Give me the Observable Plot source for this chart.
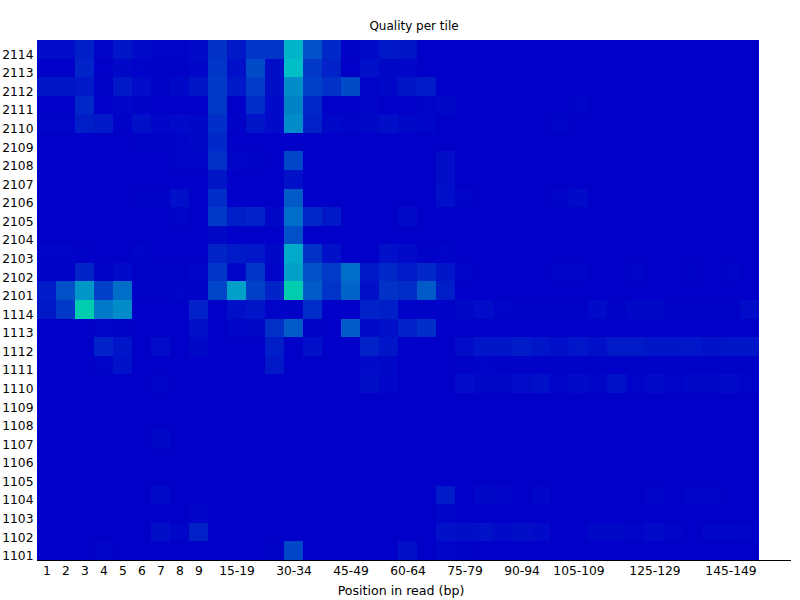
<!DOCTYPE html>
<html>
<head>
<meta charset="utf-8">
<script src="https://cdn.jsdelivr.net/npm/d3@7"></script>
<script src="https://cdn.jsdelivr.net/npm/@observablehq/plot@0.6"></script>
<style>html,body{margin:0;padding:0;background:#fff}svg{display:block}</style>
</head>
<body>
<script>
const positions = ["1","2","3","4","5","6","7","8","9","10-14","15-19","20-24","25-29","30-34","35-39","40-44","45-49","50-54","55-59","60-64","65-69","70-74","75-79","80-84","85-89","90-94","95-99","100-104","105-109","110-114","115-119","120-124","125-129","130-134","135-139","140-144","145-149","150-151"];
const shownTicks = ["1","2","3","4","5","6","7","8","9","15-19","30-34","45-49","60-64","75-79","90-94","105-109","125-129","145-149"];
const tiles = ["2114","2113","2112","2111","2110","2109","2108","2107","2106","2105","2104","2103","2102","2101","1114","1113","1112","1111","1110","1109","1108","1107","1106","1105","1104","1103","1102","1101"];

const t2114 = [.6,.6,1.5,.2,1,.5,.2,.2,.5,2.5,1.2,2.7,2.6,9,4,2,.1,.5,1.2,1, 0,0,0,0,0,0,0,0,0,0,0,0,0,0,0,0,0,0];
const t2113 = [0,0,1.8,0,.4,.2,.1,.1,.3,2.7,.8,3.8,.7,9.5,2.8,1.7,0,.8,.4,.3, 0,0,0,0,0,0,0,0,0,0,0,0,0,0,0,0,0,0];
const t2112 = [1,1,1.2,.1,1.2,.6,.1,.4,1,2.8,1.2,3,.7,7,3.2,2.5,3.8,.2,.4,1, 1.4,0,0,0,0,0,0,0,0,0,0,0,0,0,0,0,0,0];
const t2111 = [0,0,2,0,.3,.1,0,0,0,2.8,0,2.2,.5,6.5,2,0,0,.2,0,0, .2,.4,0,0,0,0,0,0,.15,0,0,0,0,0,0,0,0,0];
const t2110 = [.2,.2,1.5,1.2,.1,.8,.3,.5,.4,2.3,.1,1,.5,7,1.7,.4,.2,.4,.7,.4, .3,0,0,0,0,0,0,.15,0,0,0,0,0,0,0,0,0,0];
const t2109 = [0,0,0,0,0,.1,.1,.2,.4,2,0,0,0,0,0,0,0,0,0,0, 0,0,0,0,0,0,0,0,0,0,0,0,0,0,0,0,0,0];
const t2108 = [0,0,0,0,0,0,0,.2,.2,2.4,.3,.1,0,3.5,0,0,0,0,0,0, 0,.7,0,0,0,0,0,0,0,0,0,0,0,0,0,0,0,0];
const t2107 = [0,0,0,0,0,0,0,0,0,1,0,0,0,.8,0,0,0,0,0,0, 0,.7,0,0,0,0,0,0,0,0,0,0,0,0,0,0,0,0];
const t2106 = [0,0,0,0,0,.1,.1,.8,0,2.2,0,0,0,4.5,0,0,0,0,0,0, 0,.8,.15,0,0,0,0,.2,.5,0,0,0,0,0,0,0,0,0];
const t2105 = [0,0,0,0,0,0,0,.2,0,2.8,1.5,1.7,.4,5.5,2,1.2,0,0,0,.5, 0,0,0,0,0,0,0,0,0,0,0,0,0,0,0,0,0,0];
const t2104 = [0,0,0,0,0,0,0,0,0,.4,0,0,0,4,0,0,0,0,0,0, 0,0,0,0,0,0,0,0,0,0,0,0,0,0,0,0,0,0];
const t2103 = [.2,.2,.1,0,0,.2,0,0,0,1.8,1.3,1.1,.4,8.5,2.5,.8,0,0,.8,.5, .1,.2,0,0,0,0,0,0,0,0,0,0,0,0,0,0,0,0];
const t2102 = [.1,.1,1.8,.1,.5,.1,.1,.1,.3,2.7,.3,2.7,.2,8,4,3,5.5,1.2,2,1.3, 2,1,.2,0,0,0,0,.2,.2,0,0,.2,0,0,.1,0,.2,0];
const t2101 = [1.4,4,7.5,3.2,5.5,.1,.1,.2,.1,3.5,8,3.2,1.8,10,4.5,2.6,5,.8,2.5,2.2, 4.5,1.5,0,0,0,0,0,0,0,0,0,0,0,0,0,0,0,0];
const t1114 = [1.2,2.8,10,6,7,0,0,0,1.7,0,.8,1,.2,.1,2.2,0,0,1.7,1.5,.1, .1,.1,.4,.6,.2,.1,.1,.1,.1,.5,.1,.4,.4,.1,.1,.1,.1,.6];
const t1113 = [0,0,0,.2,.1,0,0,0,.8,0,.3,.4,2.4,4.5,.1,0,4.5,.5,.8,1.6, 2.3,0,0,0,0,0,0,0,0,0,0,0,0,0,0,0,0,0];
const t1112 = [0,0,0,1.7,1,0,.6,0,.4,0,0,0,1.5,0,.8,0,0,1.7,1,0, 0,0,.6,1,1,1.4,1,.8,1.1,.8,1.3,1.3,1,1,1.1,.9,1,1];
const t1111 = [0,0,0,.2,.9,0,0,0,0,0,0,0,1.2,0,0,0,0,.5,.4,0, 0,0,.1,.2,.1,.1,.1,.1,.1,.1,.1,.1,.1,.1,.1,.1,.1,.1];
const t1110 = [0,0,0,0,0,0,.2,0,0,0,0,0,0,0,0,0,0,.7,.3,0, 0,0,.6,.4,.4,.6,.8,.2,.5,.3,.9,.2,.5,.2,.4,.4,.5,.2];
const t1109 = [0,0,0,0,0,0,0,0,0,0,0,0,0,0,0,0,0,0,0,0, 0,0,0,0,0,0,0,0,0,0,0,0,0,0,0,0,0,0];
const t1108 = [0,0,0,0,0,0,0,0,0,0,0,0,0,0,0,0,0,0,0,0, 0,0,0,0,0,0,0,0,0,0,0,0,0,0,0,0,0,0];
const t1107 = [0,0,0,0,0,0,.4,0,0,0,0,0,0,0,0,0,0,0,0,0, 0,0,0,0,0,0,0,0,0,0,0,0,0,0,0,0,0,0];
const t1106 = [0,0,0,0,0,0,0,0,0,0,0,0,0,0,0,0,0,0,0,0, 0,0,0,0,0,0,0,0,0,0,0,0,0,0,0,0,0,0];
const t1105 = [0,0,0,0,0,0,0,0,0,0,0,0,0,0,0,0,0,0,0,0, 0,0,0,0,0,0,0,0,0,0,0,0,0,0,0,0,0,0];
const t1104 = [0,0,0,0,0,0,.5,0,0,0,0,0,0,0,0,0,0,0,0,0, 0,1.4,0,.4,.3,0,.3,0,0,0,0,0,.2,0,.2,.2,0,0];
const t1103 = [0,0,0,0,0,0,0,0,.2,0,0,0,0,0,0,0,0,0,0,0, 0,.3,0,0,0,0,0,0,0,0,0,0,0,0,0,0,0,0];
const t1102 = [0,0,0,0,0,0,.7,.3,1.6,0,0,0,0,0,0,0,0,0,0,0, 0,.8,.7,.9,.5,.7,.5,0,0,.4,.4,.2,.5,.2,0,.3,.3,.2];
const t1101 = [0,0,0,.15,0,0,0,0,0,0,0,0,.1,3.5,0,0,0,0,0,.8, 0,.3,.1,0,0,0,0,0,0,0,0,0,0,0,0,0,0,0];

const rows = [t2114,t2113,t2112,t2111,t2110,t2109,t2108,t2107,t2106,t2105,t2104,t2103,t2102,t2101,t1114,t1113,t1112,t1111,t1110,t1109,t1108,t1107,t1106,t1105,t1104,t1103,t1102,t1101];
const cells = rows.flatMap((row, r) => row.map((v, c) => ({tile: tiles[r], pos: positions[c], v})));

const plot = Plot.plot({
  width: 800,
  height: 600,
  marginLeft: 37,
  marginRight: 10,
  marginTop: 40,
  marginBottom: 40,
  style: {fontFamily: "'DejaVu Sans', sans-serif", fontSize: "12px", color: "#000", background: "#fff"},
  x: {type: "band", domain: positions, range: [37, 759], padding: 0, round: false},
  y: {type: "band", domain: tiles, padding: 0, round: false},
  color: {type: "linear", domain: [0, 9.5, 10], range: ["#0000c8", "#00bec8", "#00cdaf"], interpolate: "rgb"},
  marks: [
    Plot.cell(cells, {x: "pos", y: "tile", fill: "v", shapeRendering: "crispEdges"}),
    Plot.axisX({ticks: shownTicks, tickSize: 0, tickPadding: 6, label: null, anchor: "bottom", fontSize: 12.3}),
    Plot.axisY({tickSize: 0, tickPadding: 4, label: null, anchor: "left", dy: 5, fontSize: 12.3}),
    Plot.frame({anchor: "bottom", stroke: "#000", strokeWidth: 1}),
    Plot.text(["Quality per tile"], {frameAnchor: "top", dy: -11, lineAnchor: "bottom", fontSize: 12, fill: "#000"}),
    Plot.text(["Position in read (bp)"], {frameAnchor: "bottom", dy: 34, dx: -13, fontSize: 12.6, fill: "#000"})
  ]
});
document.body.appendChild(plot);
</script>
</body>
</html>
